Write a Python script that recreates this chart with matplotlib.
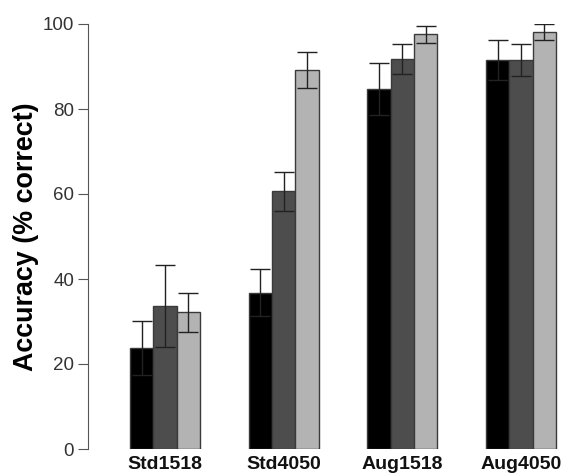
import matplotlib
matplotlib.use('Agg')
import matplotlib.pyplot as plt
import numpy as np

categories = ['Std1518', 'Std4050', 'Aug1518', 'Aug4050']
series_colors = ['#000000', '#4d4d4d', '#b3b3b3']
means = [
    [23.8, 36.8, 84.8, 91.5],
    [33.6, 60.6, 91.8, 91.5],
    [32.2, 89.1, 97.6, 98.1],
]
errors = [
    [6.3, 5.6, 6.1, 4.7],
    [9.6, 4.6, 3.6, 3.7],
    [4.6, 4.2, 2.0, 1.9],
]
y_ticks = [0, 20, 40, 60, 80, 100]

plt.rcParams['font.family'] = ['Liberation Sans', 'DejaVu Sans']

fig = plt.figure(figsize=(5.72, 4.75), dpi=100, facecolor='white')
ax = fig.add_axes([88 / 572, 26 / 475, 484 / 572, 425 / 475])

x = np.arange(len(categories))
width = 0.197
for i, (vals, errs, col) in enumerate(zip(means, errors, series_colors)):
    pos = x + (i - 1) * width
    ax.bar(pos, vals, width=width, color=col, edgecolor='#3a3a3a', linewidth=1.0, zorder=2)
    ax.errorbar(pos, vals, yerr=errs, fmt='none', ecolor='#222222', elinewidth=1.0,
                capsize=7, capthick=1.0, zorder=3)

ax.set_xlim(-0.649, 3.429)
ax.set_ylim(0, 100)
for s in ['top', 'right', 'bottom']:
    ax.spines[s].set_visible(False)
ax.spines['left'].set_color('#555555')
ax.spines['left'].set_bounds(0, 100)
ax.set_yticks(y_ticks)
ax.tick_params(axis='y', length=7, color='#555555', labelsize=13.5, labelcolor='#333333', pad=3)
ax.set_xticks(x)
ax.set_xticklabels(categories, fontsize=14, fontweight='bold', color='#111111')
ax.tick_params(axis='x', length=0, pad=5)
ax.set_ylabel('Accuracy (% correct)', fontsize=19.4, fontweight='bold', labelpad=3)

fig.savefig('out.png', dpi=100, facecolor='white')
